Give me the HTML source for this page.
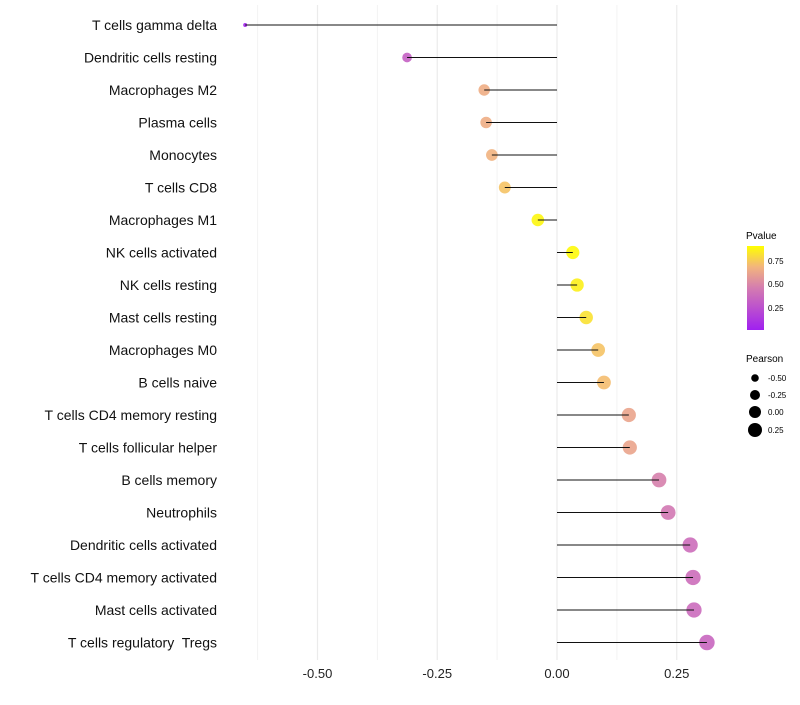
<!DOCTYPE html>
<html><head><meta charset="utf-8"><style>body{margin:0;background:#fff}svg{font-family:"Liberation Sans",sans-serif}text{white-space:pre}</style></head>
<body>
<svg id="c" width="800" height="700">
<defs><linearGradient id="pg" x1="0" y1="1" x2="0" y2="0">
<stop offset="0" stop-color="#a020f0"/><stop offset="0.5" stop-color="#d47cb0"/><stop offset="0.75" stop-color="#f2b47e"/><stop offset="1" stop-color="#ffff00"/></linearGradient></defs>
<g id="grid"></g><g id="marks"></g><g id="labels"></g>
<g>
<text x="746" y="239" font-size="10">Pvalue</text>
<rect x="747" y="246" width="17" height="84" fill="url(#pg)"/>
<text x="768" y="264" font-size="8">0.75</text>
<text x="768" y="287" font-size="8">0.50</text>
<text x="768" y="311" font-size="8">0.25</text>
</g>
<g>
<text x="746" y="362" font-size="10">Pearson</text>
<circle cx="755" cy="378" r="3.8"/><text x="768" y="381" font-size="8">-0.50</text>
<circle cx="755" cy="395" r="5"/><text x="768" y="398" font-size="8">-0.25</text>
<circle cx="755" cy="412" r="6"/><text x="768" y="415" font-size="8">0.00</text>
<circle cx="755" cy="430" r="7"/><text x="768" y="433" font-size="8">0.25</text>
</g>
</svg>
<script>
const categories=["T cells gamma delta","Dendritic cells resting","Macrophages M2","Plasma cells","Monocytes","T cells CD8","Macrophages M1","NK cells activated","NK cells resting","Mast cells resting","Macrophages M0","B cells naive","T cells CD4 memory resting","T cells follicular helper","B cells memory","Neutrophils","Dendritic cells activated","T cells CD4 memory activated","Mast cells activated","T cells regulatory  Tregs"];
const pearson=[-0.651,-0.313,-0.152,-0.148,-0.136,-0.109,-0.040,0.033,0.042,0.061,0.086,0.098,0.150,0.152,0.213,0.232,0.278,0.284,0.286,0.313];
const pvalue=[0.02,0.35,0.72,0.72,0.74,0.8,0.97,0.98,0.95,0.9,0.8,0.78,0.68,0.68,0.52,0.48,0.42,0.42,0.41,0.38];
const ticks=[-0.5,-0.25,0,0.25];
const tickLabels=["-0.50","-0.25","0.00","0.25"];
const NS="http://www.w3.org/2000/svg";
const X=v=>557+v*479, Y=i=>25+i*32.5;
function mk(t,a,p){const e=document.createElementNS(NS,t);for(const k in a)e.setAttribute(k,a[k]);p.appendChild(e);return e;}
function lerp(a,b,t){return a.map((x,i)=>Math.round(x+(b[i]-x)*t));}
function col(p){const s=[[0,[160,32,240]],[0.5,[212,124,176]],[0.75,[242,180,126]],[1,[255,255,0]]];
for(let i=1;i<s.length;i++)if(p<=s[i][0]){const c=lerp(s[i-1][1],s[i][1],(p-s[i-1][0])/(s[i][0]-s[i-1][0]));return`rgb(${c})`;}return"rgb(255,255,0)";}
const g=document.getElementById('grid'),m=document.getElementById('marks'),lb=document.getElementById('labels');
[-0.625,-0.375,-0.125,0.125].forEach(v=>{const l=mk('line',{x1:X(v),x2:X(v),y1:5,y2:660,stroke:'#f3f3f3','stroke-width':1},g);

});
ticks.forEach((v,i)=>{const l=mk('line',{x1:X(v),x2:X(v),y1:5,y2:660,stroke:'#ebebeb','stroke-width':1.2},g);


const t=mk('text',{x:X(v),y:678,'font-size':13,'text-anchor':'middle',fill:'#222'},lb);t.textContent=tickLabels[i];

});
categories.forEach((c,i)=>{const y=Y(i),v=pearson[i];
const r=Math.sqrt(Math.max(1,4+58*(v+0.65)));
const d=mk('circle',{cx:X(v),cy:y,r:r,fill:col(pvalue[i]),'fill-opacity':0.9},m);


const l=mk('line',{x1:X(0),x2:X(v),y1:y,y2:y,stroke:'#111','stroke-width':1},m);


const t=mk('text',{x:217,y:y+5,'font-size':14,'text-anchor':'end',fill:'#111'},lb);t.textContent=c;

});
</script>
</body></html>
